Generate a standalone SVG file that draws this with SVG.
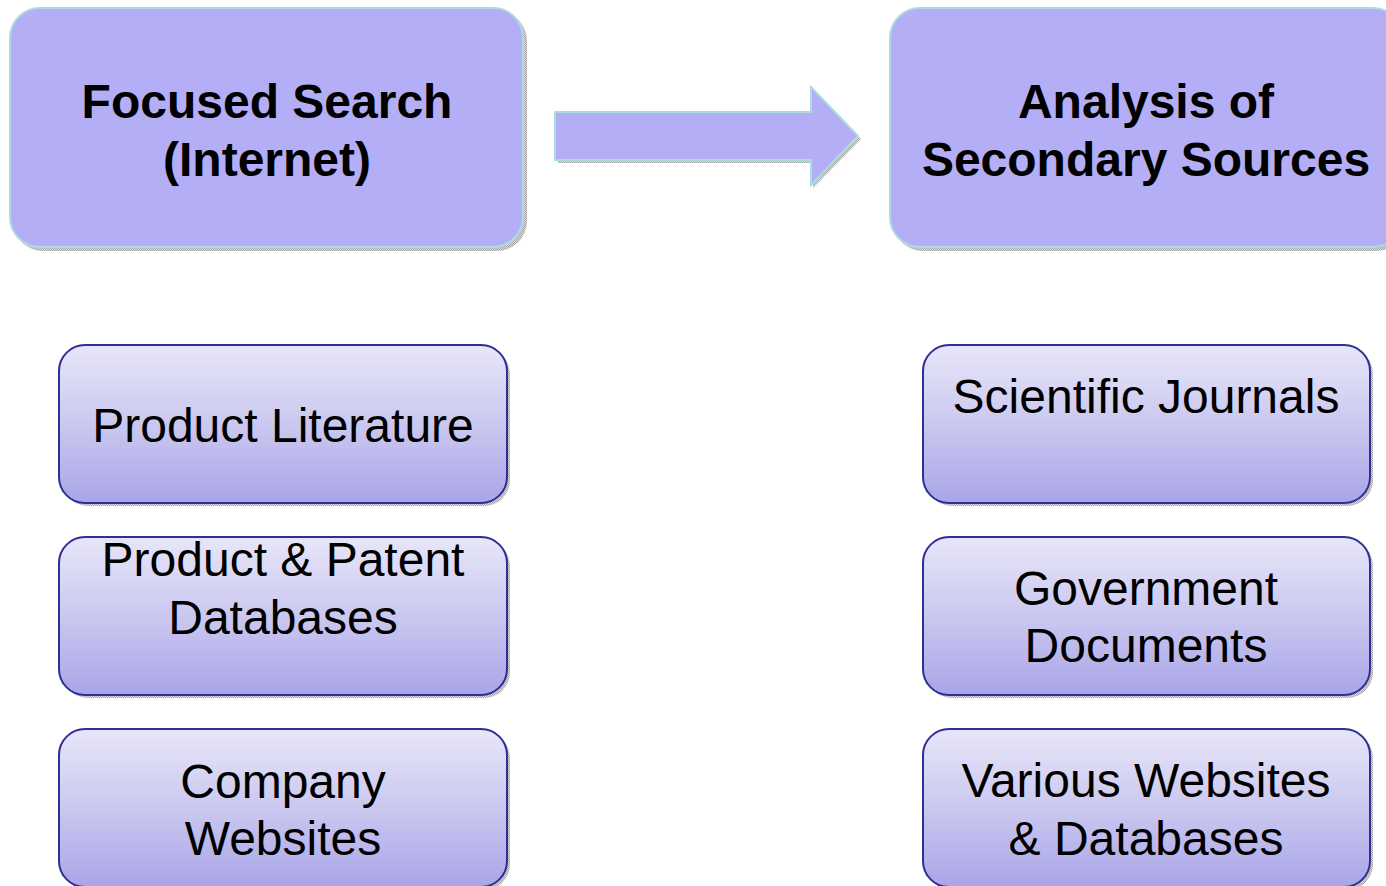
<svg xmlns="http://www.w3.org/2000/svg" width="1386" height="886" viewBox="0 0 1386 886">
<defs>
<linearGradient id="g" x1="0" y1="0" x2="0" y2="1">
<stop offset="0" stop-color="#e7e6f8"/>
<stop offset="0.5" stop-color="#cbc8f0"/>
<stop offset="1" stop-color="#a9a5e8"/>
</linearGradient>
<pattern id="sh" width="2" height="2" patternUnits="userSpaceOnUse">
<rect width="2" height="2" fill="#d8d8d8"/>
<rect width="1" height="1" fill="#a8a8a8"/>
<rect x="1" y="1" width="1" height="1" fill="#a8a8a8"/>
</pattern>
<style>
.top{fill:#b3aef6;stroke:#acdcdc;stroke-width:2}
.sub{fill:url(#g);stroke:#2e2f94;stroke-width:2}
.shd{fill:url(#sh);stroke:none}
.tb{font-family:"Liberation Sans",Arial,sans-serif;font-weight:bold;font-size:48px;fill:#000;text-anchor:middle}
.tr{font-family:"Liberation Sans",Arial,sans-serif;font-size:48px;fill:#000;text-anchor:middle}
</style>
</defs>
<rect width="1386" height="886" fill="#fff"/>

<g id="connectors">
<polygon class="shd" points="558,115 813,115 813,90 861,139 813,188 813,163 558,163"/>
<polygon class="top" points="555,112 811,112 811,87 858,136 811,185 811,160 555,160"/>
</g>

<g id="focused-search">
<rect class="shd" x="13" y="11" width="514" height="240" rx="30"/>
<rect class="top" x="10" y="8" width="513" height="239" rx="30"/>
<text class="tb" x="267" y="118">Focused Search</text>
<text class="tb" x="267" y="176">(Internet)</text>
</g>

<g id="analysis">
<rect class="shd" x="893" y="11" width="514" height="240" rx="30"/>
<rect class="top" x="890" y="8" width="513" height="239" rx="30"/>
<text class="tb" x="1146" y="118">Analysis of</text>
<text class="tb" x="1146" y="176">Secondary Sources</text>
</g>

<g id="product-literature">
<rect class="shd" x="62" y="348" width="448" height="158" rx="26"/>
<rect class="sub" x="59" y="345" width="448" height="158" rx="26"/>
<text class="tr" x="283" y="442">Product Literature</text>
</g>

<g id="product-patent">
<rect class="shd" x="62" y="540" width="448" height="158" rx="26"/>
<rect class="sub" x="59" y="537" width="448" height="158" rx="26"/>
<text class="tr" x="283" y="576">Product &amp; Patent</text>
<text class="tr" x="283" y="634">Databases</text>
</g>

<g id="company-websites">
<rect class="shd" x="62" y="732" width="448" height="158" rx="26"/>
<rect class="sub" x="59" y="729" width="448" height="158" rx="26"/>
<text class="tr" x="283" y="798">Company</text>
<text class="tr" x="283" y="855">Websites</text>
</g>

<g id="scientific-journals">
<rect class="shd" x="926" y="348" width="447" height="158" rx="26"/>
<rect class="sub" x="923" y="345" width="447" height="158" rx="26"/>
<text class="tr" x="1146" y="413">Scientific Journals</text>
</g>

<g id="government-documents">
<rect class="shd" x="926" y="540" width="447" height="158" rx="26"/>
<rect class="sub" x="923" y="537" width="447" height="158" rx="26"/>
<text class="tr" x="1146" y="605">Government</text>
<text class="tr" x="1146" y="662">Documents</text>
</g>

<g id="various-websites">
<rect class="shd" x="926" y="732" width="447" height="158" rx="26"/>
<rect class="sub" x="923" y="729" width="447" height="158" rx="26"/>
<text class="tr" x="1146" y="797">Various Websites</text>
<text class="tr" x="1146" y="855">&amp; Databases</text>
</g>
</svg>
